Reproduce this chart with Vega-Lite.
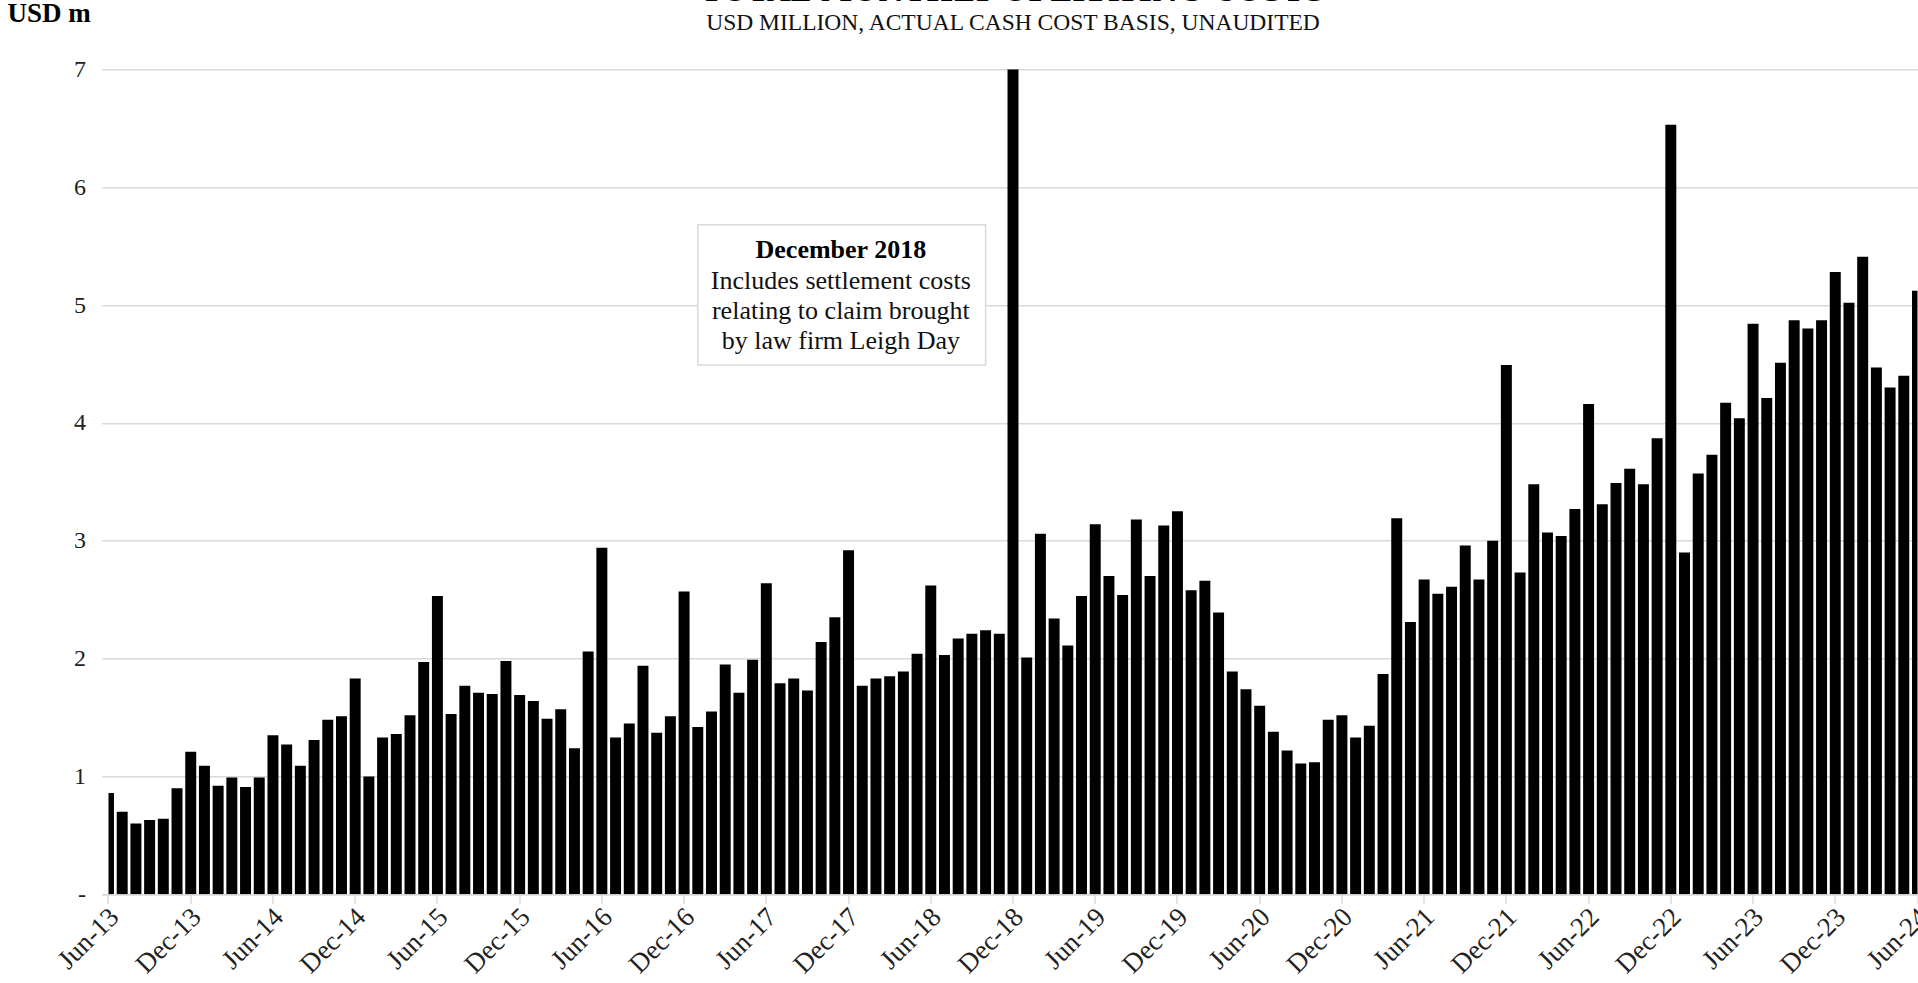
{
  "$schema": "https://vega.github.io/schema/vega-lite/v6.json",
  "autosize": {"type": "none"},
  "padding": {"left": 108.5, "top": 69.3, "right": 0.5, "bottom": 88.7},
  "width": 1809,
  "height": 825,
  "background": "#ffffff",
  "config": {"view": {"stroke": null}, "font": "Liberation Serif"},
  "title": {
    "text": "TOTAL MONTHLY OPERATING COSTS",
    "subtitle": "USD MILLION, ACTUAL CASH COST BASIS, UNAUDITED",
    "anchor": "middle",
    "frame": "group",
    "font": "DejaVu Serif",
    "fontSize": 29,
    "fontWeight": "bold",
    "color": "#000000",
    "subtitleFont": "Liberation Serif",
    "subtitleFontSize": 23.5,
    "subtitleColor": "#111111",
    "subtitlePadding": 4,
    "offset": -35
  },
  "datasets": {
    "costs": [
    {"m":"Jun-13","v":0.86},{"m":"Jul-13","v":0.70},{"m":"Aug-13","v":0.60},{"m":"Sep-13","v":0.63},{"m":"Oct-13","v":0.64},{"m":"Nov-13","v":0.90},{"m":"Dec-13","v":1.21},
    {"m":"Jan-14","v":1.09},{"m":"Feb-14","v":0.92},{"m":"Mar-14","v":0.99},{"m":"Apr-14","v":0.91},{"m":"May-14","v":0.99},{"m":"Jun-14","v":1.35},{"m":"Jul-14","v":1.27},{"m":"Aug-14","v":1.09},{"m":"Sep-14","v":1.31},{"m":"Oct-14","v":1.48},{"m":"Nov-14","v":1.51},{"m":"Dec-14","v":1.83},
    {"m":"Jan-15","v":1.00},{"m":"Feb-15","v":1.33},{"m":"Mar-15","v":1.36},{"m":"Apr-15","v":1.52},{"m":"May-15","v":1.97},{"m":"Jun-15","v":2.53},{"m":"Jul-15","v":1.53},{"m":"Aug-15","v":1.77},{"m":"Sep-15","v":1.71},{"m":"Oct-15","v":1.70},{"m":"Nov-15","v":1.98},{"m":"Dec-15","v":1.69},
    {"m":"Jan-16","v":1.64},{"m":"Feb-16","v":1.49},{"m":"Mar-16","v":1.57},{"m":"Apr-16","v":1.24},{"m":"May-16","v":2.06},{"m":"Jun-16","v":2.94},{"m":"Jul-16","v":1.33},{"m":"Aug-16","v":1.45},{"m":"Sep-16","v":1.94},{"m":"Oct-16","v":1.37},{"m":"Nov-16","v":1.51},{"m":"Dec-16","v":2.57},
    {"m":"Jan-17","v":1.42},{"m":"Feb-17","v":1.55},{"m":"Mar-17","v":1.95},{"m":"Apr-17","v":1.71},{"m":"May-17","v":1.99},{"m":"Jun-17","v":2.64},{"m":"Jul-17","v":1.79},{"m":"Aug-17","v":1.83},{"m":"Sep-17","v":1.73},{"m":"Oct-17","v":2.14},{"m":"Nov-17","v":2.35},{"m":"Dec-17","v":2.92},
    {"m":"Jan-18","v":1.77},{"m":"Feb-18","v":1.83},{"m":"Mar-18","v":1.85},{"m":"Apr-18","v":1.89},{"m":"May-18","v":2.04},{"m":"Jun-18","v":2.62},{"m":"Jul-18","v":2.03},{"m":"Aug-18","v":2.17},{"m":"Sep-18","v":2.21},{"m":"Oct-18","v":2.24},{"m":"Nov-18","v":2.21},{"m":"Dec-18","v":7.0},
    {"m":"Jan-19","v":2.01},{"m":"Feb-19","v":3.06},{"m":"Mar-19","v":2.34},{"m":"Apr-19","v":2.11},{"m":"May-19","v":2.53},{"m":"Jun-19","v":3.14},{"m":"Jul-19","v":2.70},{"m":"Aug-19","v":2.54},{"m":"Sep-19","v":3.18},{"m":"Oct-19","v":2.70},{"m":"Nov-19","v":3.13},{"m":"Dec-19","v":3.25},
    {"m":"Jan-20","v":2.58},{"m":"Feb-20","v":2.66},{"m":"Mar-20","v":2.39},{"m":"Apr-20","v":1.89},{"m":"May-20","v":1.74},{"m":"Jun-20","v":1.60},{"m":"Jul-20","v":1.38},{"m":"Aug-20","v":1.22},{"m":"Sep-20","v":1.11},{"m":"Oct-20","v":1.12},{"m":"Nov-20","v":1.48},{"m":"Dec-20","v":1.52},
    {"m":"Jan-21","v":1.33},{"m":"Feb-21","v":1.43},{"m":"Mar-21","v":1.87},{"m":"Apr-21","v":3.19},{"m":"May-21","v":2.31},{"m":"Jun-21","v":2.67},{"m":"Jul-21","v":2.55},{"m":"Aug-21","v":2.61},{"m":"Sep-21","v":2.96},{"m":"Oct-21","v":2.67},{"m":"Nov-21","v":3.00},{"m":"Dec-21","v":4.49},
    {"m":"Jan-22","v":2.73},{"m":"Feb-22","v":3.48},{"m":"Mar-22","v":3.07},{"m":"Apr-22","v":3.04},{"m":"May-22","v":3.27},{"m":"Jun-22","v":4.16},{"m":"Jul-22","v":3.31},{"m":"Aug-22","v":3.49},{"m":"Sep-22","v":3.61},{"m":"Oct-22","v":3.48},{"m":"Nov-22","v":3.87},{"m":"Dec-22","v":6.53},
    {"m":"Jan-23","v":2.90},{"m":"Feb-23","v":3.57},{"m":"Mar-23","v":3.73},{"m":"Apr-23","v":4.17},{"m":"May-23","v":4.04},{"m":"Jun-23","v":4.84},{"m":"Jul-23","v":4.21},{"m":"Aug-23","v":4.51},{"m":"Sep-23","v":4.87},{"m":"Oct-23","v":4.80},{"m":"Nov-23","v":4.87},{"m":"Dec-23","v":5.28},
    {"m":"Jan-24","v":5.02},{"m":"Feb-24","v":5.41},{"m":"Mar-24","v":4.47},{"m":"Apr-24","v":4.30},{"m":"May-24","v":4.40},{"m":"Jun-24","v":5.12}
    ],
    "note": [{"head": "December 2018", "body": ["Includes settlement costs", "relating to claim brought", "by law firm Leigh Day"]}]
  },
  "layer": [
    {
      "data": {"name": "costs"},
      "mark": {"type": "bar", "color": "#000000", "clip": true},
      "encoding": {
        "x": {
          "field": "m", "type": "ordinal", "sort": null,
          "scale": {"range": [-6.853, 1815.853], "paddingInner": 0.2, "paddingOuter": 0.1},
          "axis": {
            "title": null,
            "values": ["Jun-13","Dec-13","Jun-14","Dec-14","Jun-15","Dec-15","Jun-16","Dec-16","Jun-17","Dec-17","Jun-18","Dec-18","Jun-19","Dec-19","Jun-20","Dec-20","Jun-21","Dec-21","Jun-22","Dec-22","Jun-23","Dec-23","Jun-24"],
            "bandPosition": 0.5,
            "labelAngle": -45,
            "labelAlign": "right",
            "labelBaseline": "top",
            "labelFont": "Liberation Serif",
            "labelFontSize": 27,
            "labelColor": "#222222",
            "labelPadding": 0,
            "labelOffset": -3,
            "labelOverlap": false,
            "labelBound": false,
            "tickSize": 9,
            "tickColor": "#d9d9d9",
            "tickWidth": 1.5,
            "domainColor": "#d9d9d9",
            "domainWidth": 1.5,
            "grid": false
          }
        },
        "y": {
          "field": "v", "type": "quantitative",
          "scale": {"domain": [0, 7], "nice": false},
          "axis": {
            "title": "USD m",
            "titleAngle": 0,
            "titleX": -101.5,
            "titleY": -48,
            "titleAlign": "left",
            "titleBaseline": "alphabetic",
            "titleFont": "Liberation Serif",
            "titleFontSize": 27,
            "titleFontWeight": "bold",
            "titleColor": "#000000",
            "values": [0, 1, 2, 3, 4, 5, 6, 7],
            "format": ".0f",
            "labelExpr": "datum.value === 0 ? '-' : datum.label",
            "labelFont": "Liberation Serif",
            "labelFontSize": 24,
            "labelColor": "#222222",
            "labelPadding": 23,
            "ticks": false,
            "domain": false,
            "gridColor": "#d9d9d9",
            "gridWidth": 1.5
          }
        }
      }
    },
    {
      "data": {"name": "note"},
      "mark": {"type": "rect", "fill": "#ffffff", "stroke": "#d9d9d9", "strokeWidth": 1.5},
      "encoding": {
        "x": {"datum": "Jan-17"},
        "x2": {"datum": "Oct-18"},
        "y": {"datum": 5.68},
        "y2": {"datum": 4.49}
      }
    },
    {
      "data": {"name": "note"},
      "mark": {"type": "text", "font": "Liberation Serif", "fontSize": 26, "fontWeight": "bold", "align": "center", "baseline": "alphabetic", "fill": "#000000", "dx": 6},
      "encoding": {
        "x": {"datum": "Nov-17"},
        "y": {"datum": 5.40},
        "text": {"field": "head"}
      }
    },
    {
      "data": {"name": "note"},
      "mark": {"type": "text", "font": "Liberation Serif", "fontSize": 26, "align": "center", "baseline": "alphabetic", "lineHeight": 30, "fill": "#111111", "dx": 6},
      "encoding": {
        "x": {"datum": "Nov-17"},
        "y": {"datum": 5.14},
        "text": {"field": "body"}
      }
    }
  ]
}
